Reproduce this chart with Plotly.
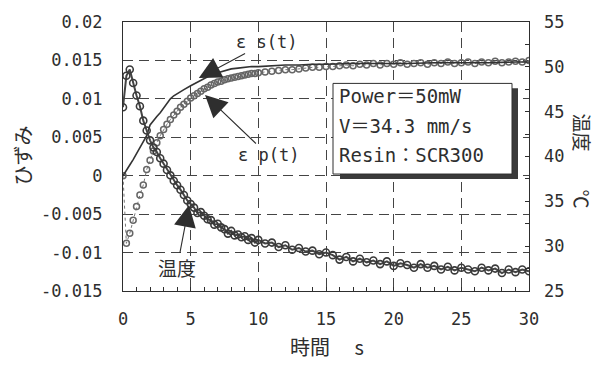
import plotly.graph_objects as go

# ---------------- data ----------------
time_s = [0.0, 0.25, 0.5, 0.75, 1.0, 1.25, 1.5, 1.75, 2.0, 2.25, 2.5, 2.75, 3.0, 3.25, 3.5, 3.75,
          4.0, 4.25, 4.5, 4.75, 5.0, 5.25, 5.5, 5.75, 6.0, 6.25, 6.5, 6.75, 7.0, 7.25, 7.5, 7.75,
          8.0, 8.25, 8.5, 8.75, 9.0, 9.25, 9.5, 9.75, 10.0,
          10.5, 11.0, 11.5, 12.0, 12.5, 13.0, 13.5, 14.0, 14.5, 15.0, 15.5, 16.0, 16.5, 17.0, 17.5,
          18.0, 18.5, 19.0, 19.5, 20.0, 20.5, 21.0, 21.5, 22.0, 22.5, 23.0, 23.5, 24.0, 24.5, 25.0,
          25.5, 26.0, 26.5, 27.0, 27.5, 28.0, 28.5, 29.0, 29.5, 30.0]

temp_c = [45.5, 49.0, 49.7, 48.2, 46.8, 45.6, 44.0, 42.9, 41.8, 41.0, 40.5, 39.8, 39.2, 38.5, 37.9, 37.3,
          36.8, 36.3, 35.7, 35.1, 34.7, 34.3, 33.7, 33.8, 33.4, 33.0, 32.9, 32.4, 32.5, 32.1, 31.9, 31.4,
          31.7, 31.2, 31.3, 31.0, 31.1, 30.7, 30.9, 30.4, 30.7,
          30.3, 30.4, 29.9, 30.1, 29.6, 29.8, 29.4, 29.5, 29.1, 29.3, 29.0, 28.5, 28.8, 28.3, 28.6,
          28.2, 28.4, 28.0, 28.3, 27.8, 28.1, 27.9, 27.6, 28.0, 27.6, 27.8, 27.4, 27.7, 27.3, 27.6,
          27.4, 27.2, 27.6, 27.3, 27.5, 27.0, 27.4, 27.1, 27.4, 27.2]

eps_p = [0.0, -0.0088, -0.0075, -0.0058, -0.0040, -0.0025, -0.0012, 0.0008, 0.0020, 0.0032, 0.0043,
         0.0052, 0.0060, 0.0067, 0.0073, 0.0079, 0.0084, 0.0089, 0.0093, 0.0097, 0.0101, 0.0104, 0.0107,
         0.0110, 0.0113, 0.0115, 0.0118, 0.0120, 0.0122, 0.0123, 0.0125, 0.0126, 0.0127, 0.0128, 0.0129,
         0.0130, 0.0131, 0.0132, 0.0133, 0.0133, 0.0134,
         0.0135, 0.0136, 0.0137, 0.0138, 0.0138, 0.0139, 0.0140, 0.0141, 0.0141, 0.0142, 0.0142, 0.0143,
         0.0144, 0.0143, 0.0145, 0.0144, 0.0146, 0.0144, 0.0146, 0.0145, 0.0147, 0.0145, 0.0146, 0.0147,
         0.0145, 0.0147, 0.0146, 0.0148, 0.0146, 0.0147, 0.0148, 0.0146, 0.0148, 0.0147, 0.0149, 0.0147,
         0.0148, 0.0149, 0.0148, 0.0150]

time_es = [0.0, 0.25, 0.5, 0.75, 1.0, 1.25, 1.5, 1.75, 2.0, 2.25, 2.5, 2.75, 3.0, 3.25, 3.5, 3.75,
           4.0, 4.5, 5.0, 5.5, 6.0, 6.5, 7.0, 7.5, 8.0, 8.5, 9.0, 9.5, 10.0, 11.0, 12.0, 13.0, 14.0,
           15.0, 17.0, 19.0, 21.0, 23.0, 25.0, 27.0, 29.0, 30.0]

eps_s = [0.0, 0.0008, 0.0014, 0.0021, 0.0029, 0.0036, 0.0043, 0.0052, 0.0066, 0.0072, 0.0077, 0.0082,
         0.0088, 0.0094, 0.0100, 0.0104, 0.0107, 0.0112, 0.0117, 0.0122, 0.0127, 0.0131, 0.0134, 0.0137,
         0.0139, 0.0140, 0.0141, 0.0142, 0.0142, 0.0143, 0.0144, 0.0144, 0.0145, 0.0145, 0.0146, 0.0146,
         0.0146, 0.0147, 0.0147, 0.0147, 0.0148, 0.0148]

x_ticks = [0, 5, 10, 15, 20, 25, 30]
y_left_ticks = [-0.015, -0.01, -0.005, 0, 0.005, 0.01, 0.015, 0.02]
y_left_labels = ["-0.015", "-0.01", "-0.005", "0", "0.005", "0.01", "0.015", "0.02"]
y_right_ticks = [25, 30, 35, 40, 45, 50, 55]
box_lines = ["Power＝50mW", "V＝34.3 mm/s", "Resin：SCR300"]

# ---------------- layout helpers ----------------
W, H = 608, 366
L, R, T, B = 123, 79, 15, 75
PW, PH = W - L - R, H - T - B
INK = "#2e2e2e"
MONO = "DejaVu Sans Mono, Noto Sans CJK JP, sans-serif"
CJK = "Noto Sans CJK JP, sans-serif"


def px(x):
    return (x - L) / PW


def py(y):
    return (H - B - y) / PH


fig = go.Figure()

fig.add_trace(go.Scatter(
    x=time_s, y=eps_p, mode="lines+markers", yaxis="y",
    line=dict(color="#777777", width=1, dash="dot"),
    marker=dict(symbol="circle-open", size=6, color="#666666", line=dict(width=1.5)),
    showlegend=False, hoverinfo="skip"))

fig.add_trace(go.Scatter(
    x=time_es, y=eps_s, mode="lines", yaxis="y",
    line=dict(color="#333333", width=1.6),
    showlegend=False, hoverinfo="skip"))

fig.add_trace(go.Scatter(
    x=time_s, y=temp_c, mode="lines+markers", yaxis="y2",
    line=dict(color="#444444", width=2),
    marker=dict(symbol="circle-open", size=7, color="#3a3a3a", line=dict(width=1.6)),
    showlegend=False, hoverinfo="skip"))

grid = dict(showgrid=True, gridcolor="#444444", gridwidth=1, griddash="10px,6px")

fig.update_layout(
    width=W, height=H,
    margin=dict(l=L, r=R, t=T, b=B, pad=0),
    paper_bgcolor="white", plot_bgcolor="white",
    font=dict(family=MONO, size=17, color=INK),
    xaxis=dict(range=[0, 30], tickvals=x_ticks, ticks="inside", ticklen=4, tickcolor=INK,
               minor=dict(dtick=1, ticks="inside", ticklen=4, tickcolor=INK, showgrid=False),
               showline=True, linecolor=INK, linewidth=1.2, mirror=True, zeroline=False,
               ticklabelstandoff=12, tickfont=dict(family=MONO, size=17, color=INK), **grid),
    yaxis=dict(range=[-0.015, 0.02], tickvals=y_left_ticks, ticktext=y_left_labels, ticks="",
               showline=True, linecolor=INK, linewidth=1.2, mirror=True, zeroline=False,
               ticklabelstandoff=16, tickfont=dict(family=MONO, size=17, color=INK), **grid),
    yaxis2=dict(range=[25, 55], tickvals=y_right_ticks, overlaying="y", side="right",
                ticks="inside", ticklen=4, tickcolor=INK,
                minor=dict(dtick=2.5, ticks="inside", ticklen=4, tickcolor=INK, showgrid=False),
                showgrid=False, zeroline=False, showline=False,
                ticklabelstandoff=14, tickfont=dict(family=MONO, size=17, color=INK)),
)

# legend-like box with shadow
fig.add_shape(type="rect", xref="paper", yref="paper",
              x0=px(340), x1=px(518), y0=py(176), y1=py(83),
              fillcolor="#3a3a3a", line=dict(width=0))
fig.add_shape(type="rect", xref="paper", yref="paper",
              x0=px(333), x1=px(512), y0=py(171), y1=py(78),
              fillcolor="white", line=dict(color=INK, width=1))
for line_text, yy in zip(box_lines, [91, 122, 151]):
    fig.add_annotation(text=line_text, xref="paper", yref="paper", x=px(337), y=py(yy),
                       xanchor="left", yanchor="middle", showarrow=False,
                       font=dict(family=MONO, size=19, color=INK))

arrow = dict(showarrow=True, arrowhead=2, arrowsize=4, arrowwidth=1.1, arrowcolor=INK,
             standoff=0)
fig.add_annotation(text="ε s(t)", x=5.6, y=0.0127, xref="x", yref="y", ax=68, ay=-36,
                   font=dict(family=MONO, size=17, color=INK), **arrow)
fig.add_annotation(text="ε p(t)", x=6.06, y=0.0105, xref="x", yref="y", ax=63, ay=60,
                   font=dict(family=MONO, size=17, color=INK), **arrow)
fig.add_annotation(text="温度", x=4.88, y=34.6, xref="x", yref="y2", ax=-12, ay=63,
                   font=dict(family=CJK, size=19, color=INK), **arrow)

# axis titles
fig.add_annotation(text="時間　 s", xref="paper", yref="paper", x=px(327), y=py(348),
                   showarrow=False, xanchor="center", yanchor="middle",
                   font=dict(family=CJK, size=20, color=INK))
fig.add_annotation(text="ひずみ", xref="paper", yref="paper", x=px(23), y=py(152),
                   showarrow=False, textangle=-90, xanchor="center", yanchor="middle",
                   font=dict(family=CJK, size=20, color=INK))
fig.add_annotation(text="温度　　℃", xref="paper", yref="paper", x=px(583), y=py(157),
                   showarrow=False, textangle=90, xanchor="center", yanchor="middle",
                   font=dict(family=CJK, size=19, color=INK))

fig.write_html("out.html", config={"displayModeBar": False},
               post_script="document.body.style.margin='0';")
